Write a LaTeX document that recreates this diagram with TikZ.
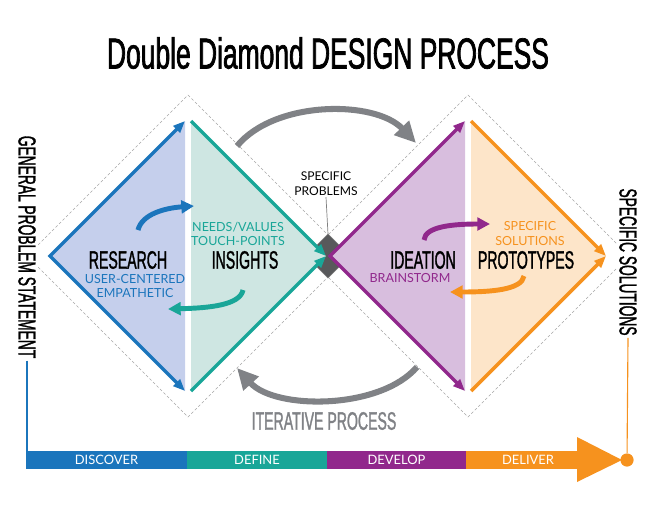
\documentclass[tikz,border=0pt]{standalone}
\usepackage{fontspec}
\setmainfont{Lato}
\newfontfamily\narrowfont[FakeStretch=0.56, FakeBold=1.2]{Liberation Sans}
\newfontfamily\headfont[FakeStretch=0.61, FakeBold=1.6]{Liberation Sans}
\usetikzlibrary{arrows.meta,positioning}
\definecolor{ddblue}{RGB}{27,117,188}
\definecolor{ddbluelt}{RGB}{197,207,236}
\definecolor{ddteal}{RGB}{25,166,152}
\definecolor{ddteallt}{RGB}{206,230,226}
\definecolor{ddpurple}{RGB}{145,40,140}
\definecolor{ddpurplelt}{RGB}{216,190,222}
\definecolor{ddorange}{RGB}{246,146,30}
\definecolor{ddorangelt}{RGB}{253,229,201}
\definecolor{ddgrey}{RGB}{128,130,134}
\definecolor{dddark}{RGB}{88,89,91}

\begin{document}
\begin{tikzpicture}[
  x=0.025cm, y=-0.025cm,
  sideline/.style={line width=2.5pt},
  swoop/.style={line width=3.5pt, -{Triangle[length=9pt,width=9pt]}},
  roundarrow/.style={draw=ddgrey, line width=4.3pt, -{Triangle[length=15pt,width=14pt]}},
  frame/.style={draw=gray!70, line width=0.4pt, dash pattern=on 2pt off 1.5pt},
  big/.style={font=\narrowfont\fontsize{17.9}{20}\selectfont, inner sep=0pt},
  sidetext/.style={font=\narrowfont\fontsize{17.5}{20}\selectfont, rotate=-90, fill=white, inner sep=1.5pt},
  small/.style={font=\fontsize{8.9}{10.5}\selectfont, align=center, inner sep=0pt},
  band/.style={minimum height=0.45cm, inner sep=0pt, text=white, font=\fontsize{9.2}{10}\selectfont}
]
\useasboundingbox (0,0) rectangle (656,507);
% dashed outer diamonds
\draw[frame] (188,95) -- (349,256) -- (188,417) -- (27,256) -- cycle;
\draw[frame] (468,95) -- (629,256) -- (468,417) -- (307,256) -- cycle;
% corners of the four halves
\coordinate (resL) at (50,256);
\coordinate (resT) at (185,121);
\coordinate (resB) at (185,391);
\coordinate (insT) at (191,121);
\coordinate (insR) at (326,256);
\coordinate (insB) at (191,391);
\coordinate (ideL) at (330,256);
\coordinate (ideT) at (465,121);
\coordinate (ideB) at (465,391);
\coordinate (proT) at (471,121);
\coordinate (proR) at (606,256);
\coordinate (proB) at (471,391);
\coordinate (sq) at (328,234);
\filldraw[fill=dddark, draw=gray, line width=0.4pt] (sq) -- (350,256) -- (328,278) -- (306,256) -- cycle;
\fill[ddbluelt] (resL) -- (resT) -- (resB) -- cycle;
\fill[ddteallt] (insT) -- (insR) -- (insB) -- cycle;
\fill[ddpurplelt] (ideL) -- (ideT) -- (ideB) -- cycle;
\fill[ddorangelt] (proT) -- (proR) -- (proB) -- cycle;
\draw[sideline, ddblue, {Triangle[length=8.5pt,width=6.5pt]}-{Triangle[length=8.5pt,width=6.5pt]}] (resT) -- (resL) -- (resB);
\draw[sideline, ddteal, -{Triangle[length=8.5pt,width=6.5pt]}] (insT) -- (insR);
\draw[sideline, ddteal, -{Triangle[length=8.5pt,width=6.5pt]}] (insB) -- (insR);
\draw[sideline, ddpurple, {Triangle[length=8.5pt,width=6.5pt]}-{Triangle[length=8.5pt,width=6.5pt]}] (ideT) -- (ideL) -- (ideB);
\draw[sideline, ddorange, -{Triangle[length=8.5pt,width=6.5pt]}] (proT) -- (proR);
\draw[sideline, ddorange, -{Triangle[length=8.5pt,width=6.5pt]}] (proB) -- (proR);
% inner turning arrows
\coordinate (blueA) at (138,230);
\coordinate (blueB) at (194,206);
\coordinate (tealA) at (243,290);
\coordinate (tealB) at (168,309);
\coordinate (purpA) at (424,240);
\coordinate (purpB) at (490,224);
\coordinate (orngA) at (524,276);
\coordinate (orngB) at (450,292);
\draw[swoop, ddblue] (blueA) .. controls (142,214) and (165,208) .. (blueB);
\draw[swoop, ddteal] (tealA) .. controls (240,305) and (210,308) .. (tealB);
\draw[swoop, ddpurple] (purpA) .. controls (425,226) and (455,224) .. (purpB);
\draw[swoop, ddorange] (orngA) .. controls (522,290) and (490,292) .. (orngB);
% iterative loop
\coordinate (loopA) at (237,146);
\coordinate (loopB) at (416,143);
\coordinate (loopC) at (417,367);
\coordinate (loopD) at (237,368);
\draw[roundarrow] (loopA) .. controls (275,100) and (375,100) .. (loopB);
\draw[roundarrow] (loopC) .. controls (380,410) and (275,410) .. (loopD);
% texts
\node[font=\headfont\fontsize{30.8}{34}\selectfont, inner sep=0pt] (title) at (328,53) {Double Diamond DESIGN PROCESS};
\node[big] (research) at (128,260) {RESEARCH};
\node[small, text=ddblue] (empathy) at (135,286) {USER-CENTERED\\EMPATHETIC};
\node[small, text=ddteal] (needs) at (238,234) {NEEDS/VALUES\\TOUCH-POINTS};
\node[big] (insights) at (245,260) {INSIGHTS};
\node[big] (ideation) at (423,260) {IDEATION};
\node[small, text=ddpurple] (brainstorm) at (410,278.5) {BRAINSTORM};
\node[small, text=ddorange] (specsol) at (530,233.5) {SPECIFIC\\SOLUTIONS};
\node[big] (prototypes) at (526,260) {PROTOTYPES};
\node[font=\fontsize{8.6}{10.7}\selectfont, align=center, inner sep=1pt] (problems) at (326,183.5) {SPECIFIC\\PROBLEMS};
\draw[gray, line width=0.5pt] (problems.south) -- (sq);
\node[big, text=ddgrey] (iterative) at (324,421) {ITERATIVE PROCESS};
\node[sidetext] (general) at (27,247) {GENERAL PROBLEM STATEMENT};
\node[sidetext] (solutions) at (628,262) {SPECIFIC SOLUTIONS};
% phase band
\node[band, fill=ddblue, minimum width=4.025cm] (discover) at (106.5,460) {DISCOVER};
\node[band, fill=ddteal, minimum width=3.5cm] (define) at (257,460) {DEFINE};
\node[band, fill=ddpurple, minimum width=3.475cm] (develop) at (396.5,460) {DEVELOP};
\node[band, fill=ddorange, minimum width=3.1cm] (deliver) at (528,460) {DELIVER};
\fill[ddorange] (577,437) -- (622,460) -- (577,482) -- cycle;
\node[circle, fill=ddorange, minimum size=0.33cm, inner sep=0pt] (dot) at (627,460) {};
\draw[ddblue, line width=0.8pt] (general.east) -- (general.east |- discover.north);
\draw[ddorange, line width=0.8pt] (solutions.east) -- (dot);
\end{tikzpicture}
\end{document}
